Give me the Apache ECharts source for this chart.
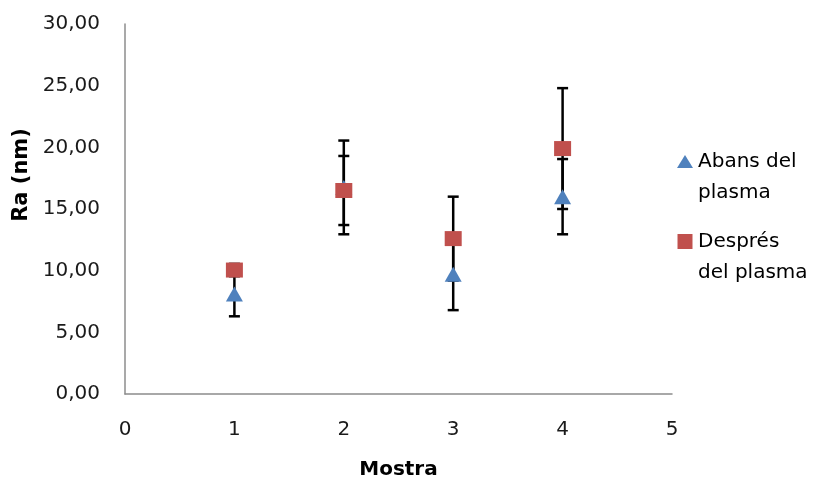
<!DOCTYPE html>
<html>
<head>
<meta charset="utf-8">
<script src="https://cdn.jsdelivr.net/npm/echarts@6/dist/echarts.min.js"></script>
<style>html,body{margin:0;padding:0;background:#fff}#c{width:821px;height:481px}</style>
</head>
<body>
<div id="c"></div>
<script>
const samples = [1, 2, 3, 4];
const seriesNames = ['Abans del plasma', 'Després del plasma'];
const legendLabels = ['Abans del\nplasma', 'Després\ndel plasma'];
const abans = [8.1, 16.75, 9.7, 16.0];
const abansErr = [1.8, 3.8, 2.9, 3.05];
const despres = [10.05, 16.5, 12.6, 19.9];
const despresErr = [0.5, 2.8, 3.4, 4.9];
const yTicks = [0, 5, 10, 15, 20, 25, 30];
const xTicks = [0, 1, 2, 3, 4, 5];

const FONT = '"DejaVu Sans", sans-serif';

function errData(vals, errs) {
  return samples.map((s, i) => [s, vals[i] - errs[i], vals[i] + errs[i]]);
}
function errRender(params, api) {
  const x = api.value(0);
  const lo = api.coord([x, api.value(1)]);
  const hi = api.coord([x, api.value(2)]);
  const w = 5.5;
  const st = { stroke: '#000', lineWidth: 2.5 };
  return {
    type: 'group',
    children: [
      { type: 'line', shape: { x1: lo[0], y1: lo[1], x2: hi[0], y2: hi[1] }, style: st },
      { type: 'line', shape: { x1: lo[0] - w, y1: lo[1], x2: lo[0] + w, y2: lo[1] }, style: st },
      { type: 'line', shape: { x1: hi[0] - w, y1: hi[1], x2: hi[0] + w, y2: hi[1] }, style: st }
    ]
  };
}

// legend icons: marker drawn in the top part of a tall box so it lines up with the first text line
const triIcon = 'path://M0,0M16,50M8,3L16,16L0,16Z';
const rectIcon = 'path://M0,0M16,50M0.5,2L15.5,2L15.5,17L0.5,17Z';

const chart = echarts.init(document.getElementById('c'));
chart.setOption({
  animation: false,
  textStyle: { fontFamily: FONT },
  grid: { left: 125, right: 149, top: 24, bottom: 87, containLabel: false, outerBoundsMode: 'none' },
  xAxis: {
    type: 'value', min: xTicks[0], max: xTicks[xTicks.length - 1], interval: 1,
    name: 'Mostra', nameLocation: 'middle', nameGap: 66,
    nameTextStyle: { fontFamily: FONT, fontWeight: 'bold', fontSize: 20, color: '#000' },
    axisLine: { lineStyle: { color: '#8c8c8c', width: 1.5 } },
    axisTick: { show: false },
    splitLine: { show: false },
    axisLabel: { fontSize: 20, color: '#1a1a1a', margin: 26 }
  },
  yAxis: {
    type: 'value', min: yTicks[0], max: yTicks[yTicks.length - 1], interval: 5,
    name: 'Ra (nm)', nameLocation: 'middle', nameGap: 92, nameRotate: 90,
    nameTextStyle: { fontFamily: FONT, fontWeight: 'bold', fontSize: 21, color: '#000', padding: [0, 0, 0, 68] },
    axisLine: { show: true, lineStyle: { color: '#8c8c8c', width: 1.5 } },
    axisTick: { show: false },
    splitLine: { show: false },
    axisLabel: { fontSize: 20, color: '#1a1a1a', margin: 25,
      formatter: v => v.toFixed(2).replace('.', ',') }
  },
  legend: {
    orient: 'vertical', left: 677, top: 146, padding: 0,
    itemGap: 18, itemWidth: 16, itemHeight: 50,
    data: [
      { name: seriesNames[0], icon: triIcon },
      { name: seriesNames[1], icon: rectIcon }
    ],
    formatter: n => legendLabels[seriesNames.indexOf(n)],
    textStyle: { fontFamily: FONT, fontSize: 20, color: '#000', lineHeight: 31 }
  },
  series: [
    { type: 'custom', name: 'errA', renderItem: errRender, data: errData(abans, abansErr), z: 1, encode: { x: 0, y: [1, 2] } },
    { type: 'custom', name: 'errD', renderItem: errRender, data: errData(despres, despresErr), z: 1, encode: { x: 0, y: [1, 2] } },
    { type: 'scatter', name: seriesNames[0], symbol: 'triangle', symbolSize: [17, 15],
      itemStyle: { color: '#4F81BD', opacity: 1 }, z: 3,
      data: samples.map((s, i) => [s, abans[i]]) },
    { type: 'scatter', name: seriesNames[1], symbol: 'rect', symbolSize: [17, 15],
      itemStyle: { color: '#C0504D', opacity: 1 }, z: 4,
      data: samples.map((s, i) => [s, despres[i]]) }
  ]
});
</script>
</body>
</html>
